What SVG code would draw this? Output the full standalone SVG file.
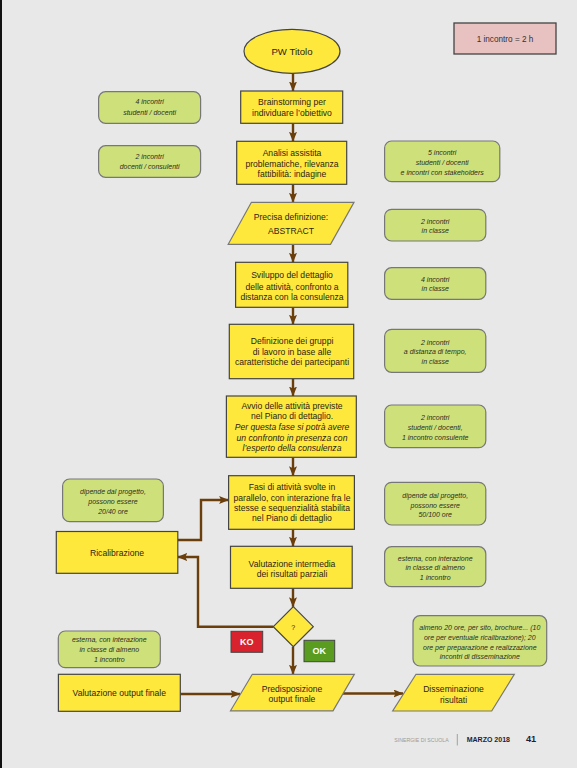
<svg xmlns="http://www.w3.org/2000/svg" width="577" height="768" viewBox="0 0 577 768">
<defs>
<style>
.bg{fill:#e8e8e8}
.y{fill:#ffe83c;stroke:#444;stroke-width:1.2}
.yp{fill:#ffe83c;stroke:#777;stroke-width:1.2}
.n{fill:#cde07a;stroke:#777;stroke-width:1.2}
.t{font-family:"Liberation Sans",Arial,sans-serif;font-size:8.6px;fill:#2d2418;text-anchor:middle}
.ti{font-style:italic}
.nt{font-family:"Liberation Sans",Arial,sans-serif;font-size:7px;font-style:italic;fill:#2e2e1e;text-anchor:middle}
.c{fill:none;stroke:#6b3f0b;stroke-width:2.4;marker-end:url(#ah)}
.w{font-family:"Liberation Sans",Arial,sans-serif;font-size:9px;font-weight:bold;fill:#fff;text-anchor:middle}
</style>
<marker id="ah" markerUnits="userSpaceOnUse" markerWidth="10" markerHeight="8" refX="9.5" refY="4" orient="auto" viewBox="0 0 10 8">
<path d="M0,0 L10,4 L0,8 L2,4 z" fill="#6b3f0b"/>
</marker>
</defs>
<rect class="bg" x="0" y="0" width="577" height="768"/>
<rect x="0" y="0" width="2" height="768" fill="#111"/>

<g id="connectors">
<path class="c" d="M293,73.3 V91"/>
<path class="c" d="M293,123.3 V141.3"/>
<path class="c" d="M293,184.3 V202.3"/>
<path class="c" d="M293,244.3 V262.3"/>
<path class="c" d="M293,307.3 V324.3"/>
<path class="c" d="M293,378.7 V396"/>
<path class="c" d="M293,457.3 V475.7"/>
<path class="c" d="M293,529.3 V546.3"/>
<path class="c" d="M293,588.3 V606.7"/>
<path class="c" d="M293,646.7 V674.3"/>
<path class="c" d="M177.8,540 H201 V500 H228.6"/>
<path class="c" d="M273.3,626.7 H198 V557 H177.8"/>
<path class="c" d="M180.3,694 H240"/>
<path class="c" d="M343,693.5 H403"/>
</g>

<g id="legend">
<rect x="454" y="23" width="102" height="31" fill="#e8c1c1" stroke="#444" stroke-width="1.3"/>
<text class="t" x="505" y="42.3" style="font-size:8.2px;fill:#333">1 incontro = 2 h</text>
</g>

<g id="start">
<ellipse cx="292" cy="51.3" rx="48" ry="22" class="y"/>
<text class="t" x="292" y="54.5" style="font-size:9.6px">PW Titolo</text>
</g>

<g id="brainstorming">
<rect class="y" x="240.7" y="91" width="102" height="32.3"/>
<text class="t" x="292" y="105.3">Brainstorming per</text>
<text class="t" x="292" y="115.8">individuare l’obiettivo</text>
</g>

<g id="analisi">
<rect class="y" x="236.7" y="141.3" width="110" height="43"/>
<text class="t" x="292" y="156.3">Analisi assistita</text>
<text class="t" x="292" y="166.9">problematiche, rilevanza</text>
<text class="t" x="292" y="177.4">fattibilità: indagine</text>
</g>

<g id="abstract">
<polygon class="yp" points="251.4,202.3 354,202.3 330.5,244.3 228.2,244.3"/>
<text class="t" x="291" y="220.2">Precisa definizione:</text>
<text class="t" x="291" y="234.4">ABSTRACT</text>
</g>

<g id="sviluppo">
<rect class="y" x="235.6" y="262.3" width="112.2" height="45"/>
<text class="t" x="292" y="278">Sviluppo del dettaglio</text>
<text class="t" x="292" y="289.6">delle attività, confronto a</text>
<text class="t" x="292" y="300.4">distanza con la consulenza</text>
</g>

<g id="gruppi">
<rect class="y" x="229.3" y="324.3" width="124.4" height="54.4"/>
<text class="t" x="292" y="344">Definizione dei gruppi</text>
<text class="t" x="292" y="355.4">di lavoro in base alle</text>
<text class="t" x="292" y="365.4">caratteristiche dei partecipanti</text>
</g>

<g id="avvio">
<rect class="y" x="226.4" y="396" width="129.9" height="61.3"/>
<text class="t" x="292" y="408.5">Avvio delle attività previste</text>
<text class="t" x="292" y="419">nel Piano di dettaglio.</text>
<text class="t ti" x="292" y="430">Per questa fase si potrà avere</text>
<text class="t ti" x="292" y="440.5">un confronto in presenza con</text>
<text class="t ti" x="292" y="451">l’esperto della consulenza</text>
</g>

<g id="fasi">
<rect class="y" x="228.6" y="475.7" width="125.8" height="53.6"/>
<text class="t" x="292" y="490">Fasi di attività svolte in</text>
<text class="t" x="292" y="500.5">parallelo, con interazione fra le</text>
<text class="t" x="292" y="511">stesse e sequenzialità stabilita</text>
<text class="t" x="292" y="521.2">nel Piano di dettaglio</text>
</g>

<g id="ricalibrazione">
<rect class="y" x="56.3" y="531.5" width="121.5" height="41.8"/>
<text class="t" x="117" y="556">Ricalibrazione</text>
</g>

<g id="intermedia">
<rect class="y" x="230.5" y="546.3" width="121.7" height="42"/>
<text class="t" x="292" y="566.5">Valutazione intermedia</text>
<text class="t" x="292" y="576.6">dei risultati parziali</text>
</g>

<g id="decisione">
<polygon class="y" points="293.3,606.7 313.3,626.7 293.3,646.7 273.3,626.7"/>
<text class="t" x="293.3" y="629.6" style="font-size:7px">?</text>
</g>

<g id="ko">
<rect x="231" y="631.3" width="31.7" height="21" fill="#d8232e" stroke="#444" stroke-width="1"/>
<text class="w" x="246.8" y="645">KO</text>
</g>

<g id="ok">
<rect x="304" y="640.3" width="30.7" height="21.4" fill="#5a9c1f" stroke="#444" stroke-width="1"/>
<text class="w" x="319.3" y="654.2">OK</text>
</g>

<g id="output-finale">
<rect class="y" x="58.4" y="674.3" width="121.9" height="37"/>
<text class="t" x="119.3" y="696">Valutazione output finale</text>
</g>

<g id="predisposizione">
<polygon class="yp" points="252.3,674.3 354.3,674.3 333,710.8 230.5,710.8"/>
<text class="t" x="292" y="691.5">Predisposizione</text>
<text class="t" x="292" y="702.2">output finale</text>
</g>

<g id="disseminazione">
<polygon class="yp" points="416,674.3 514.3,674.3 491.7,711 392.7,711"/>
<text class="t" x="453.5" y="691.5">Disseminazione</text>
<text class="t" x="453.5" y="702.5">risultati</text>
</g>

<g id="note-brainstorming">
<rect class="n" x="98.6" y="91.7" width="102" height="31.6" rx="7"/>
<text class="nt" x="149.6" y="104.2">4 incontri</text>
<text class="nt" x="149.6" y="114.8">studenti / docenti</text>
</g>

<g id="note-analisi-sx">
<rect class="n" x="98.6" y="145.7" width="102" height="31.6" rx="7"/>
<text class="nt" x="149.6" y="159">2 incontri</text>
<text class="nt" x="149.6" y="168.5">docenti / consulenti</text>
</g>

<g id="note-analisi-dx">
<rect class="n" x="384.6" y="141" width="115.2" height="40.7" rx="7"/>
<text class="nt" x="442.2" y="155">5 incontri</text>
<text class="nt" x="442.2" y="165">studenti / docenti</text>
<text class="nt" x="442.2" y="175">e incontri con stakeholders</text>
</g>

<g id="note-abstract">
<rect class="n" x="384.6" y="209.3" width="101.2" height="31.7" rx="7"/>
<text class="nt" x="435.2" y="224">2 incontri</text>
<text class="nt" x="435.2" y="233.4">in classe</text>
</g>

<g id="note-sviluppo">
<rect class="n" x="384.6" y="267.7" width="101.2" height="31.6" rx="7"/>
<text class="nt" x="435.2" y="281.8">4 incontri</text>
<text class="nt" x="435.2" y="291.1">in classe</text>
</g>

<g id="note-gruppi">
<rect class="n" x="384.6" y="329.3" width="101.2" height="43" rx="7"/>
<text class="nt" x="435.2" y="345">2 incontri</text>
<text class="nt" x="435.2" y="354.4">a distanza di tempo,</text>
<text class="nt" x="435.2" y="364">in classe</text>
</g>

<g id="note-avvio">
<rect class="n" x="384.6" y="405" width="101.2" height="42.7" rx="7"/>
<text class="nt" x="435.2" y="420">2 incontri</text>
<text class="nt" x="435.2" y="430">studenti / docenti,</text>
<text class="nt" x="435.2" y="439.6">1 incontro consulente</text>
</g>

<g id="note-fasi-sx">
<rect class="n" x="62.6" y="479" width="100.8" height="42.7" rx="7"/>
<text class="nt" x="113" y="494.4">dipende dal progetto,</text>
<text class="nt" x="113" y="504.4">possono essere</text>
<text class="nt" x="113" y="514">20/40 ore</text>
</g>

<g id="note-fasi-dx">
<rect class="n" x="384.6" y="482.3" width="101.2" height="42.7" rx="7"/>
<text class="nt" x="435.2" y="498.4">dipende dal progetto,</text>
<text class="nt" x="435.2" y="507.8">possono essere</text>
<text class="nt" x="435.2" y="517.2">50/100 ore</text>
</g>

<g id="note-intermedia">
<rect class="n" x="384.6" y="546.7" width="101.2" height="40" rx="7"/>
<text class="nt" x="435.2" y="561">esterna, con interazione</text>
<text class="nt" x="435.2" y="570">in classe di almeno</text>
<text class="nt" x="435.2" y="579.6">1 incontro</text>
</g>

<g id="note-output-finale">
<rect class="n" x="58.3" y="631" width="102" height="36.7" rx="7"/>
<text class="nt" x="109.3" y="642">esterna, con interazione</text>
<text class="nt" x="109.3" y="652">in classe di almeno</text>
<text class="nt" x="109.3" y="662">1 incontro</text>
</g>

<g id="note-disseminazione">
<rect class="n" x="413" y="615.7" width="133.7" height="50.3" rx="7"/>
<text class="nt" x="479.8" y="630">almeno 20 ore, per sito, brochure... (10</text>
<text class="nt" x="479.8" y="640">ore per eventuale ricalibrazione); 20</text>
<text class="nt" x="479.8" y="650">ore per preparazione e realizzazione</text>
<text class="nt" x="479.8" y="659.3">incontri di disseminazione</text>
</g>

<g id="footer">
<text x="394.3" y="741.8" font-family="Liberation Sans, Arial, sans-serif" font-size="6.2" fill="#9a9a9a" textLength="54.4" lengthAdjust="spacingAndGlyphs">SINERGIE DI SCUOLA</text>
<line x1="457.3" y1="734" x2="457.3" y2="745.5" stroke="#a0a0a0" stroke-width="1"/>
<text x="466.7" y="741.8" font-family="Liberation Sans, Arial, sans-serif" font-size="7" font-weight="bold" fill="#1e1e38" textLength="43.3" lengthAdjust="spacingAndGlyphs">MARZO 2018</text>
<text x="526" y="742.3" font-family="Liberation Sans, Arial, sans-serif" font-size="9.2" font-weight="bold" fill="#1e1e38">41</text>
</g>
</svg>
